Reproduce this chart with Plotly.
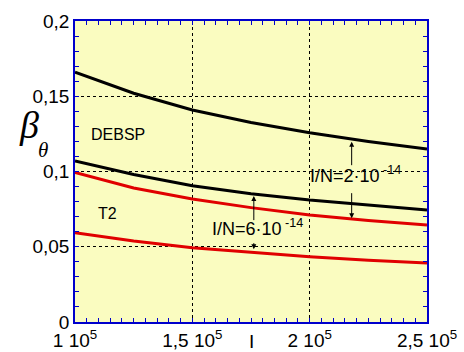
import plotly.graph_objects as go

# Data
current = [1.0e5, 1.25e5, 1.5e5, 1.75e5, 2.0e5, 2.25e5, 2.5e5]
debsp_2e14 = [0.166, 0.152, 0.1409, 0.1325, 0.1258, 0.1200, 0.1150]
debsp_6e14 = [0.107, 0.098, 0.0906, 0.0852, 0.0810, 0.0775, 0.0744]
t2_2e14 = [0.0993, 0.0890, 0.0817, 0.0760, 0.0711, 0.0675, 0.0645]
t2_6e14 = [0.0593, 0.0538, 0.0494, 0.0463, 0.0434, 0.0410, 0.0392]

x_tickvals = [1.0e5, 1.5e5, 2.0e5, 2.5e5]
x_ticktext = ["1 10<sup>5</sup>", "1,5 10<sup>5</sup>", "2 10<sup>5</sup>", "2,5 10<sup>5</sup>"]
y_tickvals = [0, 0.05, 0.1, 0.15, 0.2]
y_ticktext = ["0", "0,05", "0,1", "0,15", "0,2"]

FONT = "Liberation Sans, Arial, sans-serif"
SERIF = "Liberation Serif, Times New Roman, serif"

fig = go.Figure()
for ys, col in [(debsp_2e14, "black"), (debsp_6e14, "black"),
                (t2_2e14, "#e00000"), (t2_6e14, "#e00000")]:
    fig.add_trace(go.Scatter(x=current, y=ys, mode="lines",
                             line=dict(color=col, width=3), showlegend=False,
                             hoverinfo="skip"))

axis_common = dict(
    showline=True, linecolor="#0000cc", linewidth=1.5, mirror="ticks",
    ticks="inside", ticklen=4, tickcolor="#0000cc", tickwidth=1,
    showgrid=True, gridcolor="black", gridwidth=1, griddash="dot",
    zeroline=False, automargin=False,
    tickfont=dict(family=FONT, size=19, color="black"),
)

fig.update_xaxes(range=[1.0e5, 2.5e5], tickvals=x_tickvals, ticktext=x_ticktext,
                 minor=dict(ticks="inside", dtick=5000, tick0=1.0e5, ticklen=4,
                            tickcolor="#0000cc", showgrid=False),
                 **axis_common)
fig.update_yaxes(range=[0, 0.2], tickvals=y_tickvals, ticktext=y_ticktext,
                 minor=dict(ticks="inside", dtick=0.01, tick0=0, ticklen=4,
                            tickcolor="#0000cc", showgrid=False),
                 **axis_common)

ann = []
# axis titles
ann.append(dict(text="<i>β</i>", xref="paper", yref="paper", x=-0.165, y=0.654,
                showarrow=False, font=dict(family=SERIF, size=38, color="black")))
ann.append(dict(text="<i>θ</i>", xref="paper", yref="paper", x=-0.11, y=0.571,
                showarrow=False, font=dict(family=SERIF, size=21, color="black")))
ann.append(dict(text="I", xref="paper", yref="paper", x=0.5, y=-0.065,
                showarrow=False, yanchor="middle",
                font=dict(family=FONT, size=19, color="black")))
# curve labels
ann.append(dict(text="DEBSP", x=1.185e5, y=0.1249, showarrow=False,
                font=dict(family=FONT, size=16, color="black")))
ann.append(dict(text="T2", x=1.14e5, y=0.0718, showarrow=False,
                font=dict(family=FONT, size=16, color="black")))
ann.append(dict(text="I/N=2·10<sup> -14</sup>", x=2.196e5, y=0.0983, showarrow=False,
                font=dict(family=FONT, size=18, color="black")))
ann.append(dict(text="I/N=6·10<sup> -14</sup>", x=1.779e5, y=0.0625, showarrow=False,
                font=dict(family=FONT, size=18, color="black")))
# arrows (head x,y ; tail ax,ay)
for hx, hy, ty in [(2.179e5, 0.1198, 0.1032), (2.179e5, 0.0689, 0.0866),
                   (1.762e5, 0.0837, 0.0667), (1.762e5, 0.0483, 0.0534)]:
    ann.append(dict(text="", x=hx, y=hy, ax=hx, ay=ty, axref="x", ayref="y",
                    showarrow=True, arrowhead=2, arrowsize=1, arrowwidth=1,
                    arrowcolor="black"))

fig.update_layout(
    width=464, height=352,
    margin=dict(l=75, r=37, t=21, b=30),
    paper_bgcolor="white", plot_bgcolor="#fafcc0",
    annotations=ann,
    font=dict(family=FONT, color="black"),
)

fig.write_html("out.html")
